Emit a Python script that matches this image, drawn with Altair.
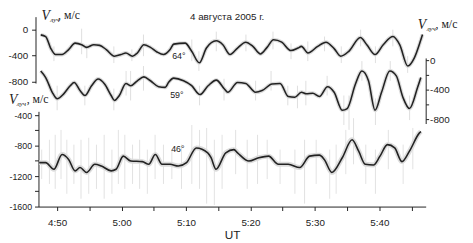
import altair as alt
import pandas as pd

# ---- data (minutes after 4:00 UT, radial velocity m/s) ----
t64 = [47.45, 48.22, 48.98, 49.74, 50.76, 51.78, 52.79, 53.81, 54.57, 55.69, 56.6, 57.62, 58.89, 59.91, 60.67,
       61.69, 62.45, 63.46, 64.48, 65.5, 66.51, 67.53, 68.09, 69.86, 70.88, 72.06, 73.17, 74.7, 75.72, 76.83,
       78.0, 79.27, 80.38, 81.55, 82.58, 83.58, 84.86, 86.28, 87.39, 87.91, 88.92, 90.44, 91.72, 92.99, 94.01,
       95.27, 97.06, 98.06, 99.34, 100.61, 102.13, 103.16, 104.42, 105.44, 106.45, 106.71]
v64 = [-80, -106, -282, -382, -382, -306, -207, -231, -272, -231, -241, -306, -407, -382, -358,
       -407, -358, -231, -272, -343, -382, -306, -222, -207, -332, -509, -282, -171, -231, -382,
       -282, -192, -257, -373, -272, -155, -192, -321, -282, -257, -358, -257, -192, -291, -407,
       -332, -121, -231, -382, -231, -106, -231, -558, -433, -155, -75]

t59 = [47.45, 48.22, 49.24, 50.0, 51.02, 52.03, 52.64, 53.55, 54.31, 55.34, 56.36, 57.36, 58.38, 58.89, 59.65,
       60.67, 61.43, 62.45, 63.46, 64.48, 65.75, 66.77, 67.3, 68.09, 69.62, 70.88, 72.15, 73.43, 74.7, 75.96,
       76.48, 78.0, 79.27, 80.79, 81.81, 83.34, 84.6, 85.87, 86.89, 87.91, 88.67, 89.68, 90.7, 91.97, 92.99,
       94.25, 95.02, 96.3, 97.3, 98.32, 99.34, 100.35, 101.63, 102.64, 103.66, 104.68, 105.95, 106.45]
v59 = [-147, -236, -436, -524, -457, -347, -303, -413, -480, -347, -257, -324, -480, -547, -480,
       -316, -347, -280, -227, -280, -360, -369, -300, -244, -280, -347, -467, -347, -271, -391,
       -436, -303, -316, -436, -413, -324, -316, -493, -503, -436, -457, -449, -493, -360, -436,
       -680, -657, -324, -147, -280, -680, -436, -147, -213, -503, -657, -369, -236]

t46 = [47.21, 48.22, 49.5, 50.76, 51.78, 52.79, 53.55, 54.57, 55.84, 56.86, 58.38, 59.15, 60.26, 61.43, 63.22,
       64.22, 65.24, 66.27, 67.53, 68.8, 70.08, 71.6, 73.37, 73.89, 74.65, 76.17, 77.44, 78.0, 79.77, 81.3,
       82.82, 84.34, 85.87, 87.65, 89.18, 90.7, 91.46, 92.64, 94.25, 95.78, 96.8, 97.82, 99.09, 100.11, 101.26,
       102.39, 103.51, 104.68, 106.2, 106.45]
v46 = [-1023, -1023, -1110, -916, -981, -1131, -1088, -1152, -1045, -1067, -1131, -1110, -938, -1002, -1010,
       -1045, -916, -1045, -1045, -1067, -1023, -830, -894, -959, -1110, -894, -852, -894, -1002, -959,
       -938, -1045, -1045, -1088, -938, -925, -981, -1152, -959, -723, -873, -1045, -1054, -938, -787,
       -830, -1010, -873, -636, -615]

# raw-data spikes (gray)
s64_t = [49.5, 53.8, 54.6, 58.8, 61.6, 63.4, 70.9, 72.0, 74.7, 79.3, 83.5, 86.3, 88.9, 91.5, 94.1, 97.1, 99.4, 102.1, 104.4]
s64_hi = [-257, 15, -226, -257, -302, -75, -151, -332, -30, -75, -30, -211, -181, -106, -257, 0, -257, 0, -407]
s64_lo = [-483, -377, -438, -513, -483, -407, -483, -634, -332, -332, -302, -453, -483, -332, -513, -257, -513, -257, -664]

s59_t = [50.0, 54.3, 58.8, 60.7, 61.4, 63.4, 72.1, 75.9, 80.8, 83.2, 85.8, 87.3, 88.6, 91.9, 94.5, 95.3, 97.3, 99.4, 101.7, 104.7]
s59_hi = [-347, -347, -387, -147, -147, -80, -347, -253, -280, -147, -347, -347, -280, -213, -480, -480, -13, -520, -13, -480]
s59_lo = [-680, -613, -680, -480, -547, -413, -613, -547, -547, -413, -613, -653, -613, -480, -880, -946, -280, -880, -280, -813]

s46_t = [47.6, 48.8, 49.7, 50.6, 51.5, 52.6, 53.7, 54.9, 56.1, 57.3, 58.5, 59.5, 60.5, 61.7, 62.8, 64.0, 65.2, 66.5,
         67.8, 69.3, 70.9, 72.1, 73.2, 74.4, 75.6, 77.7, 79.5, 81.1, 82.6, 84.6, 86.9, 88.4, 90.2, 92.3, 93.3, 94.8,
         96.0, 97.9, 99.4, 101.4, 103.7, 105.2]
s46_hi = [-852, -723, -658, -594, -723, -787, -723, -697, -787, -658, -852, -594, -658, -787, -723, -852, -658, -787,
          -852, -787, -529, -594, -568, -723, -658, -594, -723, -658, -723, -852, -852, -723, -723, -852, -787, -594,
          -439, -787, -852, -594, -787, -568]
s46_lo = [-1239, -1303, -1368, -1239, -1432, -1303, -1497, -1432, -1368, -1497, -1432, -1303, -1368, -1303, -1368,
          -1432, -1239, -1303, -1239, -1368, -1303, -1368, -1561, -1580, -1368, -1174, -1368, -1303, -1239, -1303,
          -1432, -1561, -1303, -1497, -1432, -1174, -1045, -1303, -1432, -1110, -1303, -1110]

x_ticks = [50, 55, 60, 65, 70, 75, 80, 85, 90, 95, 100, 105]

# ---- chart ----
W, H = 394, 198
xscale = alt.Scale(domain=[47.1, 107.2], nice=False)
xaxis = alt.Axis(values=x_ticks, grid=False, tickSize=4, labelPadding=7, title="UT",
                 titleFontSize=12, titleFontWeight="normal", titlePadding=2,
                 titleFont="Liberation Sans", titleColor="#222",
                 labelExpr="datum.value % 10 == 0 ? (datum.value < 60 ? '4:' + datum.value : '5:' + (datum.value == 60 ? '00' : (datum.value - 60))) : ''")
X = alt.X("t:Q", scale=xscale, axis=xaxis)

lab400 = "datum.value % 400 == 0 ? '' + datum.value : ''"

sc64 = alt.Scale(domain=[-820, 200], range=[72.3, 4.75], nice=False, zero=False)
sc59 = alt.Scale(domain=[-860, 30], range=[113.5, 46.75], nice=False, zero=False)
sc46 = alt.Scale(domain=[-1600, -350], range=[198, 101.1], nice=False, zero=False)

ax64 = alt.Axis(values=[0, -400, -800], orient="left", offset=3, tickSize=4, labelPadding=4,
                labelExpr=lab400, grid=False, title=None)
ax59 = alt.Axis(values=[0, -200, -400, -600, -800], orient="right", tickSize=3, labelPadding=1,
                labelExpr=lab400, grid=False, title=None)
ax46 = alt.Axis(values=[-400, -600, -800, -1000, -1200, -1400, -1600], orient="left", tickSize=4,
                labelPadding=3, labelExpr=lab400, grid=False, title=None, labelFontSize=9)


def series(t, v, st, shi, slo, sc, ax, halo_w, spike_op):
    d = pd.DataFrame({"t": t, "v": v})
    s = pd.DataFrame({"t": st, "hi": shi, "lo": slo})
    spikes = alt.Chart(s).mark_rule(color="#c4c4c4", strokeWidth=1, opacity=spike_op).encode(
        x=X, y=alt.Y("hi:Q", scale=sc, axis=None), y2="lo:Q")
    halo = alt.Chart(d).mark_line(color="#dcdcdc", strokeWidth=halo_w, interpolate="monotone").encode(
        x=X, y=alt.Y("v:Q", scale=sc, axis=None))
    line = alt.Chart(d).mark_line(color="#222222", strokeWidth=1.6, interpolate="monotone").encode(
        x=X, y=alt.Y("v:Q", scale=sc, axis=ax))
    return [spikes, halo, line]


def txt(s, x, y, size=10, font="Liberation Sans", style="normal", align="left"):
    return alt.Chart(pd.DataFrame({"a": [0]})).mark_text(
        text=s, fontSize=size, font=font, fontStyle=style, align=align, baseline="alphabetic",
        color="#222").encode(x=alt.value(x), y=alt.value(y))


layers = []
layers += series(t64, v64, s64_t, s64_hi, s64_lo, sc64, ax64, 4, 0.55)
layers += series(t59, v59, s59_t, s59_hi, s59_lo, sc59, ax59, 4, 0.55)
layers += series(t46, v46, s46_t, s46_hi, s46_lo, sc46, ax46, 5, 0.5)

layers += [
    txt("4 августа 2005 г.", 192, 8, 10, align="center"),
    # top-left axis label
    txt("V", 3, 8, 14, "Liberation Serif", "italic"),
    txt("луч", 12, 10, 7, "Liberation Serif", "italic"),
    txt(", м/с", 20, 7, 12, "Liberation Serif"),
    # bottom-left axis label
    txt("V", -30, 94, 14, "Liberation Serif", "italic"),
    txt("луч", -22, 96, 7, "Liberation Serif", "italic"),
    txt(", м/с", -12, 93, 12, "Liberation Serif"),
    # right axis label
    txt("V", 386, 17, 14, "Liberation Serif", "italic"),
    txt("луч", 395, 19, 7, "Liberation Serif", "italic"),
    txt(", м/с", 404, 16, 12, "Liberation Serif"),
    # curve labels
    txt("64°", 136, 48, 9),
    txt("59°", 134, 88, 9),
    txt("46°", 135, 142, 9),
]

chart = alt.layer(*layers).resolve_scale(y="independent").properties(
    width=W, height=H,
    autosize=alt.AutoSizeParams(type="none"),
    padding={"left": 31, "top": 2, "right": 40, "bottom": 35},
    background="white",
).configure_view(stroke=None).configure_axis(
    labelFont="Liberation Sans", labelFontSize=10, labelColor="#222",
    domainColor="#222", tickColor="#222", domainWidth=1, tickWidth=1,
)

chart.save("out.html", embed_options={"renderer": "svg", "actions": False})
